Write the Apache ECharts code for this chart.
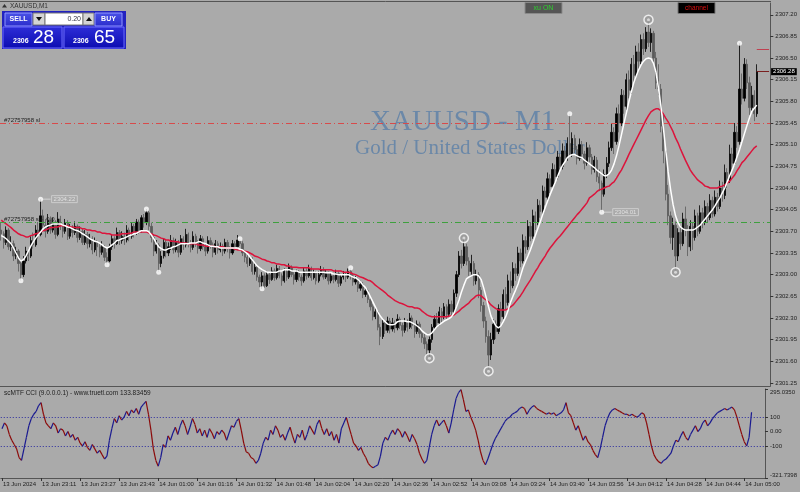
<!DOCTYPE html>
<html><head><meta charset="utf-8">
<script src="https://cdn.jsdelivr.net/npm/echarts@6/dist/echarts.min.js"></script>
<style>html,body{margin:0;padding:0;background:#aaaaaa;}#c{width:800px;height:492px;}</style>
</head><body><div id="c"></div>
<script>
// Prices are stored in cents above PRICE_BASE (e.g. 385 -> 2303.85)
const PRICE_BASE = 2300;
const O = [
372,366,352,372,345,350,330,338,318,300, 322,338,330,355,348,372,365,395,380,370,
388,372,385,365,390,378,370,384,362,375, 368,378,360,370,352,365,350,358,340,352,
345,336,345,328,322,345,358,350,368,355, 362,356,372,362,378,368,385,372,392,384,
400,378,360,338,348,318,330,352,335,345, 355,340,352,336,358,348,365,350,344,362,
352,342,358,345,338,355,348,336,350,340, 346,338,352,342,335,350,345,356,350,335,
328,318,325,305,312,296,288,298,282,300, 292,306,295,310,298,290,305,296,312,300,
292,304,296,290,306,298,310,295,302,290, 300,308,296,302,290,298,292,302,286,296,
300,296,305,298,288,292,278,284,268,274, 260,248,232,240,215,200,222,210,225,212,
222,214,228,218,210,224,215,230,218,208, 220,205,198,188,178,195,215,228,222,240,
232,248,236,252,240,270,300,330,318,345, 322,305,318,290,300,275,250,225,200,170,
195,220,208,245,232,268,255,290,282,310, 302,335,322,355,345,378,362,395,385,412,
402,435,425,455,442,470,458,490,475,500, 488,512,495,520,502,488,510,495,480,505,
490,470,485,458,448,430,462,480,505,530, 515,560,545,590,572,615,598,640,622,660,
645,680,665,692,675,690,650,610,600,540, 500,430,395,360,380,330,368,350,390,372,
345,378,360,395,370,400,385,410,392,420, 398,425,410,440,428,465,452,495,480,530,
515,600,585,640,610,570,590,560];
const H = [
385,370,378,375,362,355,345,341,325,330, 345,342,362,368,380,385,422,405,390,398,
394,392,388,401,395,382,390,388,382,380, 386,381,378,374,372,369,366,362,360,356,
350,354,348,336,350,364,362,376,372,370, 368,380,376,385,382,390,389,396,398,406,
403,384,365,356,351,338,358,356,352,364, 360,358,356,364,362,374,368,356,370,366,
356,364,362,350,362,360,352,356,354,352, 350,358,356,346,356,354,364,358,354,340,
332,330,328,318,315,300,304,302,306,304, 312,310,316,314,302,310,308,318,315,304,
308,307,300,312,310,316,313,308,306,306, 314,312,308,305,304,302,308,305,300,306,
304,310,311,302,298,295,290,288,280,277, 264,252,246,243,220,228,226,232,230,230,
226,236,232,222,230,228,238,234,222,226, 224,212,204,192,200,220,234,238,248,246,
254,252,260,258,276,306,338,340,359,350, 328,332,322,308,304,280,256,232,210,206,
228,226,252,256,276,280,300,305,320,318, 345,342,365,362,388,385,405,402,422,420,
444,442,465,462,480,478,500,496,512,508, 522,560,530,526,508,520,516,500,514,510,
495,492,490,470,452,470,490,515,545,538, 570,575,600,598,625,630,650,655,670,674,
688,690,700,712,698,694,660,640,608,560, 510,445,402,392,386,375,380,400,410,380,
388,385,405,400,412,408,420,416,430,426, 436,432,452,450,478,472,510,505,545,540,
674,625,650,648,620,605,598,640];
const L = [
355,342,348,340,338,322,325,305,290,296, 318,322,327,342,345,358,362,372,360,366,
366,368,358,362,372,360,366,356,358,360, 364,352,356,348,348,342,344,333,336,330,
328,332,322,316,320,340,342,348,348,350, 348,352,354,358,360,364,366,368,376,380,
372,352,330,334,304,312,326,328,330,340, 334,336,328,332,340,344,344,336,340,345,
334,338,340,330,334,342,328,332,334,336, 330,334,336,326,332,338,342,346,330,320,
312,314,300,300,290,280,277,278,280,285, 290,290,292,294,282,287,290,293,296,284,
288,290,282,287,292,295,290,292,284,287, 297,292,293,284,286,286,289,280,282,292,
288,293,292,282,284,272,274,262,264,254, 242,226,228,210,186,196,204,206,205,208,
206,210,212,200,206,208,212,212,198,204, 198,190,180,170,165,190,210,215,218,222,
228,228,232,234,236,264,296,310,314,315, 298,300,282,284,262,240,214,190,144,162,
188,196,204,224,228,244,250,270,278,290, 298,312,318,334,340,354,358,372,380,392,
398,412,420,432,438,448,454,465,470,478, 484,490,490,496,478,484,488,470,476,482,
462,465,450,435,401,426,456,474,500,495, 510,530,540,560,566,585,592,610,616,630,
640,655,660,668,660,640,600,590,530,480, 420,380,350,340,304,322,340,346,362,330,
338,340,355,362,366,375,380,385,388,392, 394,402,406,418,422,440,448,470,476,505,
510,575,580,600,558,562,548,555];
const C = [
366,352,372,345,350,330,338,318,300,322, 338,330,355,348,372,365,395,380,370,388,
372,385,365,390,378,370,384,362,375,368, 378,360,370,352,365,350,358,340,352,345,
336,345,328,322,345,358,350,368,355,362, 356,372,362,378,368,385,372,392,384,400,
378,360,338,348,318,330,352,335,345,355, 340,352,336,358,348,365,350,344,362,352,
342,358,345,338,355,348,336,350,340,346, 338,352,342,335,350,345,356,350,335,328,
318,325,305,312,296,288,298,282,300,292, 306,295,310,298,290,305,296,312,300,292,
304,296,290,306,298,310,295,302,290,300, 308,296,302,290,298,292,302,286,296,300,
296,305,298,288,292,278,284,268,274,260, 248,232,240,215,200,222,210,225,212,222,
214,228,218,210,224,215,230,218,208,220, 205,198,188,178,195,215,228,222,240,232,
248,236,252,240,270,300,330,318,345,322, 305,318,290,300,275,250,225,200,170,195,
220,208,245,232,268,255,290,282,310,302, 335,322,355,345,378,362,395,385,412,402,
435,425,455,442,470,458,490,475,500,488, 512,495,520,502,488,510,495,480,505,490,
470,485,458,448,430,462,480,505,530,515, 560,545,590,572,615,598,640,622,660,645,
680,665,692,675,690,650,610,600,540,500, 430,395,360,380,330,368,350,390,372,345,
378,360,395,370,400,385,410,392,420,398, 425,410,440,428,465,452,495,480,530,515,
600,585,640,610,570,590,560,628];
// fast (white) and slow (red) moving averages, cents above PRICE_BASE
const MA_FAST = [
363,361,358,354,350,343,335,327,322,324, 330,338,346,353,359,364,369,374,377,379,
380,382,382,382,382,380,379,377,376,374, 372,371,369,366,364,361,358,356,354,353,
351,348,345,343,345,348,351,355,356,358, 359,361,363,364,366,367,369,371,371,371,
369,364,358,351,345,342,340,340,342,343, 345,346,348,350,350,350,350,351,351,351,
353,353,351,350,348,346,346,345,345,343, 343,343,343,343,343,343,343,341,340,337,
334,329,324,319,314,311,308,306,304,304, 304,304,304,306,306,308,308,308,306,306,
306,304,304,304,304,304,304,304,304,304, 304,304,303,303,303,301,301,300,300,300,
300,300,298,296,295,292,288,283,279,272, 264,256,248,240,233,228,224,220,219,219,
220,224,225,225,225,224,224,222,220,217, 214,209,206,203,203,206,211,216,219,222,
225,227,229,232,238,248,259,272,283,293, 296,298,300,300,298,292,279,264,248,233,
224,217,214,217,224,232,243,256,266,275, 285,298,311,321,330,340,351,363,374,385,
397,408,419,429,439,448,458,468,476,482, 489,492,494,494,492,490,489,485,482,479,
476,473,469,466,463,460,460,463,469,479, 492,508,526,544,561,579,595,610,621,631,
639,645,649,650,649,642,628,603,574,539, 502,466,437,413,395,384,377,374,372,372,
372,372,374,377,380,385,390,395,400,405, 411,418,424,432,440,450,460,469,479,491,
502,515,528,541,553,564,569,574];
const MA_SLOW = [
388,385,382,379,376,372,369,366,364,363, 361,361,363,364,366,367,369,371,372,374,
376,376,377,377,379,379,379,379,377,377, 376,376,376,374,374,372,372,371,371,369,
369,367,367,366,366,364,364,364,364,366, 366,366,367,367,369,369,369,369,369,369,
367,366,364,363,361,359,358,356,356,354, 354,353,353,351,351,351,350,350,350,350,
348,348,348,346,346,346,346,345,345,345, 345,343,343,343,343,341,340,340,338,338,
337,335,333,330,329,327,325,324,322,321, 319,319,317,317,316,316,314,314,312,312,
312,311,311,311,311,311,309,309,309,309, 308,308,308,308,308,306,306,306,306,304,
304,304,303,301,300,298,296,295,293,291, 290,287,283,280,277,274,271,267,264,261,
258,256,254,253,251,249,248,248,246,246, 245,241,238,235,233,232,232,232,232,232,
232,232,233,233,235,238,241,245,248,251, 254,259,262,266,267,266,262,259,256,251,
248,245,243,243,243,243,245,248,251,256, 261,266,272,279,285,291,298,305,311,318,
324,330,337,343,348,353,358,362,367,372, 377,382,387,392,397,401,406,411,416,424,
427,430,434,437,438,440,442,443,447,450, 456,463,469,477,485,494,502,510,518,526,
534,542,550,557,563,566,568,568,565,560, 553,547,539,531,521,513,503,494,485,477,
469,463,458,453,450,447,443,442,440,440, 440,440,442,443,445,448,451,456,461,468,
474,481,485,490,495,500,505,508];
const CCI = [
20,60,40,-20,-60,-90,-120,-180,-200,-120, -40,40,90,120,140,180,200,120,60,40,
20,60,40,-10,20,10,-30,0,-40,-20, -60,-40,-80,-100,-70,-110,-130,-90,-120,-150,
-130,-160,-190,-170,-60,20,90,60,110,80, 100,140,110,150,130,160,120,170,190,210,
120,10,-120,-200,-240,-180,-90,-110,-30,-60, -10,30,-20,40,80,40,-20,30,90,50,
-10,20,-30,10,-40,20,-10,-50,0,-20, 10,-10,-60,-10,40,30,70,90,10,-80,
-140,-150,-180,-190,-220,-200,-150,-80,-40,-60, 10,-20,40,10,-40,-20,-60,-10,30,-30,
-80,-20,-40,10,-60,-20,40,10,-20,50, 80,20,-20,20,-30,0,-60,-20,-80,20,
60,100,40,-20,-80,-100,-130,-110,-150,-180, -220,-240,-250,-240,-230,-170,-80,-40,-60,-20,
10,-20,20,0,-40,0,-30,-70,-20,-50, -90,-150,-190,-220,-200,-110,-20,40,80,40,
60,80,40,-10,60,150,230,270,290,220, 140,150,100,60,10,-60,-140,-200,-230,-190,
-140,-90,-50,-20,10,40,70,90,100,120, 130,140,160,170,160,120,150,170,180,160,
150,140,130,120,130,120,130,110,120,130, 150,200,130,110,60,10,40,-10,-60,-30,
-70,-90,-130,-160,-180,-120,-40,40,90,130, 150,160,150,140,130,120,120,110,120,110,
100,110,130,120,60,-20,-100,-160,-190,-210, -220,-200,-190,-170,-150,-100,-60,-70,-30,0,
-40,-60,-20,10,40,0,20,60,80,40, 60,90,110,130,140,150,160,150,160,170,
150,100,40,-20,-70,-100,-40,133.83];

const TIME_LABELS = ['13 Jun 2024','13 Jun 23:11','13 Jun 23:27','13 Jun 23:43','14 Jun 01:00','14 Jun 01:16','14 Jun 01:32','14 Jun 01:48','14 Jun 02:04','14 Jun 02:20','14 Jun 02:36','14 Jun 02:52','14 Jun 03:08','14 Jun 03:24','14 Jun 03:40','14 Jun 03:56','14 Jun 04:12','14 Jun 04:28','14 Jun 04:44','14 Jun 05:00'];
const TIME_LABEL_STEP = 16;
const EMPTY_SLOTS = 5;
const PRICE_TICKS = [2301.25,2301.60,2301.95,2302.30,2302.65,2303.00,2303.35,2303.70,2304.05,2304.40,2304.75,2305.10,2305.45,2305.80,2306.15,2306.50,2306.85,2307.20];
const PRICE_MIN = 2301.20, PRICE_MAX = 2307.39;
const CCI_TICKS = [-321.7398,-100,0,100,295.0350];
const CCI_MIN = -321.7398, CCI_MAX = 295.0350;
const CCI_LEVELS = [100,-100];
const LEVEL_SL = 2305.44, LEVEL_GREEN = 2303.85;
const BID = 2306.28, ASK = 2306.65;
const DOT_IDX = [8,16,43,59,64,97,106,142,231,244,300];
const DOT_VAL = [290,422,316,406,304,358,277,311,560,401,674];
const RING_IDX = [174,188,198,263,274];
const RING_VAL = [165,359,144,712,304];
const TAG_IDX = [16,244];
const TAG_VAL = [422,401];
const TAG_TEXT = ['2304.22','2304.01'];

const px = v => +(PRICE_BASE + v/100).toFixed(2);
const N = C.length;
const cats = Array.from({length: N + EMPTY_SLOTS}, (_, i) => String(i));
const candles = C.map((c,i) => [px(O[i]), px(c), px(L[i]), px(H[i])]);
const ff = 'Liberation Sans';
const TXT = '#1e1e1e';
const showTick = (i) => i % TIME_LABEL_STEP === 0 && i / TIME_LABEL_STEP < TIME_LABELS.length;

const chart = echarts.init(document.getElementById('c'), null, {renderer:'canvas', width:800, height:492});

const blueGrad = (a,b) => new echarts.graphic.LinearGradient(0,0,0,1,[{offset:0,color:a},{offset:1,color:b}]);

const option = {
  backgroundColor: '#aaaaaa',
  animation: false,
  grid: [
    {left:0, top:3, width:771, height:383},
    {left:0, top:389, width:771, height:89}
  ],
  xAxis: [
    {type:'category', gridIndex:0, data:cats, boundaryGap:true,
     axisLine:{show:true, onZero:false, lineStyle:{color:'#555', width:1}}, axisTick:{show:false}, axisLabel:{show:false}, splitLine:{show:false}},
    {type:'category', gridIndex:1, data:cats, boundaryGap:true,
     axisLine:{show:true, onZero:false, lineStyle:{color:'#555', width:1}},
     axisTick:{show:true, alignWithLabel:true, interval:(i)=>showTick(i), length:3, lineStyle:{color:'#333'}},
     axisLabel:{show:true, interval:(i)=>showTick(i), formatter:(v,i)=>TIME_LABELS[i/TIME_LABEL_STEP] || '', align:'left', margin:3, padding:[0,0,0,1], fontSize:6, fontFamily:ff, color:TXT},
     splitLine:{show:false}}
  ],
  yAxis: [
    {type:'value', gridIndex:0, position:'right', min:PRICE_MIN, max:PRICE_MAX, scale:true,
     axisLine:{show:true, lineStyle:{color:'#555'}},
     axisTick:{show:true, length:3, customValues:PRICE_TICKS, lineStyle:{color:'#333'}},
     axisLabel:{show:true, customValues:PRICE_TICKS, formatter:v=>v.toFixed(2), fontSize:6, fontFamily:ff, color:TXT, margin:5},
     splitLine:{show:false}},
    {type:'value', gridIndex:1, position:'right', min:CCI_MIN, max:CCI_MAX,
     axisLine:{show:true, lineStyle:{color:'#555'}},
     axisTick:{show:true, length:3, customValues:CCI_TICKS, lineStyle:{color:'#333'}},
     axisLabel:{show:true, customValues:CCI_TICKS, fontSize:6, fontFamily:ff, color:TXT, margin:5,
       verticalAlignMaxLabel:'top', verticalAlignMinLabel:'bottom',
       formatter:v=>(v===CCI_MAX||v===CCI_MIN)? v.toFixed(4) : (v===0?'0.00':String(v))},
     splitLine:{show:false}}
  ],
  graphic: [
    {type:'text', z:0, x:370, y:122, style:{text:'XAUUSD - M1', font:'29px "Liberation Serif"', fill:'#6b88a8', verticalAlign:'middle'}},
    {type:'text', z:0, x:355, y:148, style:{text:'Gold / United States Dollar', font:'21px "Liberation Serif"', fill:'#6b88a8', verticalAlign:'middle'}},
    {type:'line', z:50, shape:{x1:0,y1:1.5,x2:771,y2:1.5}, style:{stroke:'#555', lineWidth:1}},
    {type:'polygon', z:100, shape:{points:[[2,7.5],[7,7.5],[4.5,4]]}, style:{fill:'#333'}},
    {type:'text', z:100, x:10, y:6, style:{text:'XAUUSD,M1', font:'6.5px "Liberation Sans"', fill:'#333', verticalAlign:'middle'}},
    {type:'rect', z:100, shape:{x:2,y:11,width:124,height:38}, style:{fill:'#2222c0'}},
    {type:'rect', z:101, shape:{x:5,y:13,width:27,height:13}, style:{fill:blueGrad('#4a52e6','#2a2ccc'), stroke:'#8f97ff', lineWidth:1}},
    {type:'text', z:102, x:18.5, y:19.5, style:{text:'SELL', font:'bold 7px "Liberation Sans"', fill:'#fff', align:'center', verticalAlign:'middle'}},
    {type:'rect', z:101, shape:{x:33,y:13,width:12,height:12}, style:{fill:'#d4d4d4', stroke:'#777', lineWidth:1}},
    {type:'polygon', z:102, shape:{points:[[36,17],[42,17],[39,21]]}, style:{fill:'#111'}},
    {type:'rect', z:101, shape:{x:45,y:13,width:38,height:12}, style:{fill:'#ffffff', stroke:'#777', lineWidth:1}},
    {type:'text', z:102, x:81, y:19, style:{text:'0.20', font:'7px "Liberation Sans"', fill:'#334', align:'right', verticalAlign:'middle'}},
    {type:'rect', z:101, shape:{x:83,y:13,width:11,height:12}, style:{fill:'#d4d4d4', stroke:'#777', lineWidth:1}},
    {type:'polygon', z:102, shape:{points:[[86,21],[92,21],[89,17]]}, style:{fill:'#111'}},
    {type:'rect', z:101, shape:{x:95,y:13,width:27,height:13}, style:{fill:blueGrad('#4a52e6','#2a2ccc'), stroke:'#8f97ff', lineWidth:1}},
    {type:'text', z:102, x:108.5, y:19.5, style:{text:'BUY', font:'bold 7px "Liberation Sans"', fill:'#fff', align:'center', verticalAlign:'middle'}},
    {type:'rect', z:101, shape:{x:3,y:27,width:59,height:21}, style:{fill:blueGrad('#2e2ed8','#0c0cb0'), stroke:'#6a6aff', lineWidth:1}},
    {type:'text', z:102, x:13, y:41, style:{text:'2306', font:'bold 7px "Liberation Sans"', fill:'#fff', verticalAlign:'middle'}},
    {type:'text', z:102, x:33, y:37.5, style:{text:'28', font:'19px "Liberation Sans"', fill:'#fff', verticalAlign:'middle'}},
    {type:'rect', z:101, shape:{x:64,y:27,width:60,height:21}, style:{fill:blueGrad('#2e2ed8','#0c0cb0'), stroke:'#6a6aff', lineWidth:1}},
    {type:'text', z:102, x:73, y:41, style:{text:'2306', font:'bold 7px "Liberation Sans"', fill:'#fff', verticalAlign:'middle'}},
    {type:'text', z:102, x:94, y:37.5, style:{text:'65', font:'19px "Liberation Sans"', fill:'#fff', verticalAlign:'middle'}},
    {type:'rect', z:100, shape:{x:525,y:2.5,width:37,height:11}, style:{fill:'#555555', stroke:'#8a8a8a', lineWidth:1}},
    {type:'text', z:101, x:543.5, y:8, style:{text:'xu ON', font:'7px "Liberation Sans"', fill:'#2fd02f', align:'center', verticalAlign:'middle'}},
    {type:'rect', z:100, shape:{x:678,y:2.5,width:37,height:11}, style:{fill:'#000000', stroke:'#777', lineWidth:1}},
    {type:'text', z:101, x:696.5, y:8, style:{text:'channel', font:'6.5px "Liberation Sans"', fill:'#e01010', align:'center', verticalAlign:'middle'}},
    {type:'text', z:100, x:4, y:393, style:{text:'scMTF CCI (9.0.0.0.1) - www.truetl.com 133.83459', font:'6.5px "Liberation Sans"', fill:'#222', verticalAlign:'middle'}}
  ],
  series: [
    {type:'candlestick', name:'XAUUSD', xAxisIndex:0, yAxisIndex:0, data:candles, z:3,
     barWidth:1.8,
     itemStyle:{color:'#000000', color0:'#5a5a5a', borderColor:'#000000', borderColor0:'#5a5a5a', borderWidth:0.8},
     markLine:{silent:true, symbol:['none','none'], animation:false,
       data:[
         {yAxis:LEVEL_SL, lineStyle:{color:'#d84a4a', width:1, type:[6,3,1,3]},
          label:{show:true, position:'insideStartTop', distance:[4,0], formatter:'#72757958 sl', fontSize:6, fontFamily:ff, color:'#222'}},
         {yAxis:LEVEL_GREEN, lineStyle:{color:'#3ea03e', width:1, type:[6,3,1,3]},
          label:{show:true, position:'insideStartTop', distance:[4,0], formatter:'#72757958 s→ 0.0', fontSize:6, fontFamily:ff, color:'#222'}},
         [{coord:[N-1, ASK], lineStyle:{color:'#c04050', width:1, type:'solid'}, label:{show:false}}, {coord:[N+EMPTY_SLOTS-1, ASK]}],
         [{coord:[N-1, BID], lineStyle:{color:'#7a2020', width:1, type:'solid'},
           label:{show:true, position:'end', distance:2, formatter:BID.toFixed(2), backgroundColor:'#000', color:'#fff', padding:[1,2,0,2], fontSize:6, fontFamily:ff}},
          {coord:[N+EMPTY_SLOTS-1, BID]}]
       ]}},
    {type:'line', name:'MA slow', xAxisIndex:0, yAxisIndex:0, data:MA_SLOW.map(px), z:4, symbol:'none', smooth:false,
     lineStyle:{color:'#dc143c', width:1.5}},
    {type:'line', name:'MA fast', xAxisIndex:0, yAxisIndex:0, data:MA_FAST.map(px), z:5, symbol:'none', smooth:false,
     lineStyle:{color:'#ffffff', width:1.5}},
    {type:'scatter', xAxisIndex:0, yAxisIndex:0, z:6, symbol:'rect', symbolSize:[8,1], symbolOffset:[6,0],
     data:TAG_IDX.map((i,k)=>[i, px(TAG_VAL[k])]), itemStyle:{color:'#dddddd'},
     label:{show:true, position:'right', distance:1, formatter:(p)=>TAG_TEXT[p.dataIndex], fontSize:6, fontFamily:ff, color:'#eeeeee',
       borderColor:'#d6d6d6', borderWidth:1, padding:[1,2,0,2]}},
    {type:'scatter', xAxisIndex:0, yAxisIndex:0, z:7, symbol:'circle', symbolSize:5,
     data:DOT_IDX.map((i,k)=>[i, px(DOT_VAL[k])]), itemStyle:{color:'#ffffff'}},
    {type:'scatter', xAxisIndex:0, yAxisIndex:0, z:7, symbol:'circle', symbolSize:9,
     data:RING_IDX.map((i,k)=>[i, px(RING_VAL[k])]), itemStyle:{color:'#9a9a9a', borderColor:'#ffffff', borderWidth:1.5}},
    {type:'scatter', xAxisIndex:0, yAxisIndex:0, z:8, symbol:'circle', symbolSize:3,
     data:RING_IDX.map((i,k)=>[i, px(RING_VAL[k])]), itemStyle:{color:'#e6e6e6'}},
    {type:'line', xAxisIndex:1, yAxisIndex:1, data:[], silent:true,
     markLine:{silent:true, symbol:['none','none'], label:{show:false},
       data:CCI_LEVELS.map(v=>({yAxis:v})), lineStyle:{color:'#2a2aa0', width:1, type:[1,2]}}},
    {type:'custom', xAxisIndex:1, yAxisIndex:1, z:4,
     data:CCI.slice(0,-1).map((v,i)=>[i, v, CCI[i+1]]),
     renderItem:(params, api)=>{
       const a = api.coord([api.value(0), api.value(1)]);
       const b = api.coord([api.value(0)+1, api.value(2)]);
       const up = api.value(2) >= api.value(1);
       return {type:'line', shape:{x1:a[0],y1:a[1],x2:b[0],y2:b[1]}, style:{stroke: up ? '#1a1a90' : '#8b0a0a', lineWidth:1.2}};
     }}
  ]
};
chart.setOption(option);
</script></body></html>
